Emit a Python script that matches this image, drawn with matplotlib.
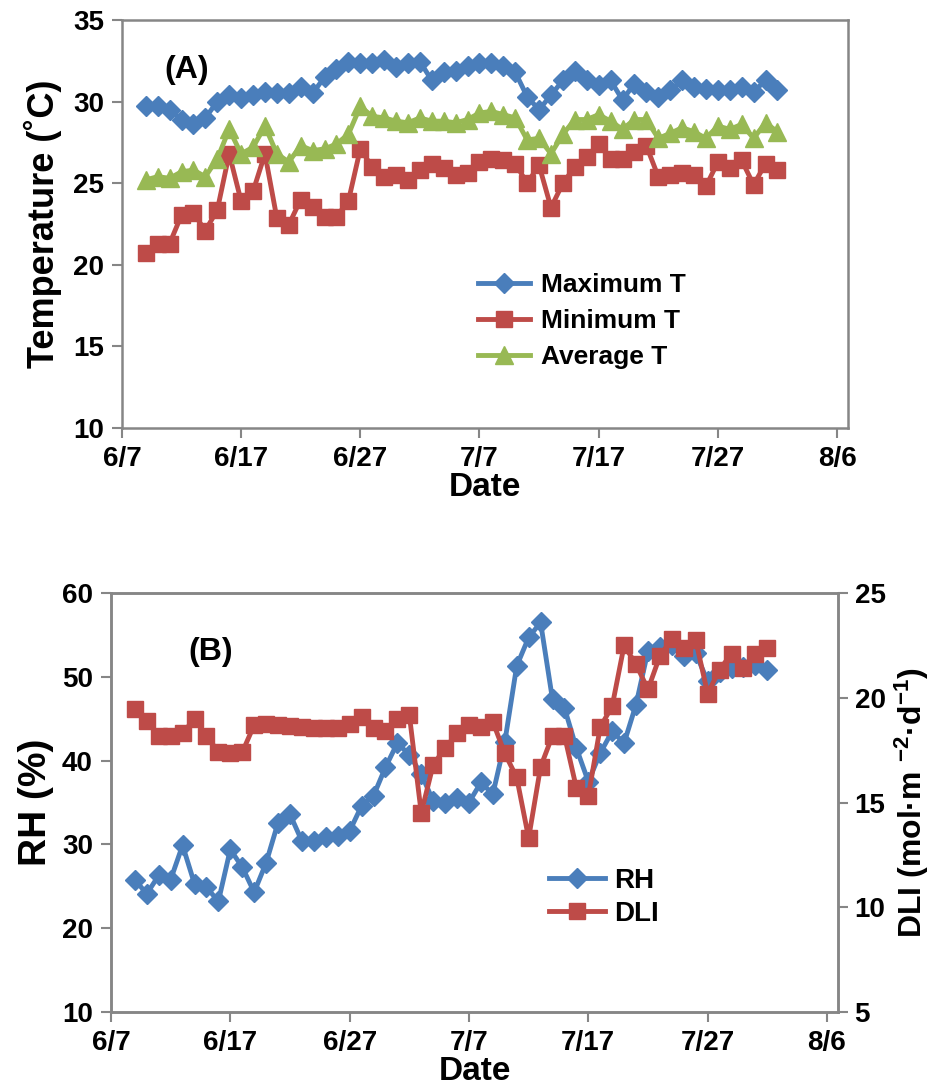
import matplotlib
matplotlib.use('Agg')
import matplotlib.pyplot as plt
import pandas as pd

plt.rcParams['mathtext.fontset'] = 'custom'
plt.rcParams['mathtext.rm'] = 'Liberation Sans:bold'
plt.rcParams['mathtext.bf'] = 'Liberation Sans:bold'
plt.rcParams['mathtext.default'] = 'bf'

# daily readings, 6/9 - 8/1
dates = pd.date_range('2013-06-09', '2013-08-01', freq='D')

max_t = [29.7, 29.7, 29.5, 28.9, 28.6, 29.0, 30.0, 30.4, 30.2, 30.4,
         30.6, 30.5, 30.5, 30.9, 30.5, 31.5, 32.0, 32.4, 32.35, 32.35,
         32.55, 32.1, 32.35, 32.45, 31.3, 31.8, 31.9, 32.2, 32.35, 32.35,
         32.2, 31.8, 30.3, 29.5, 30.4, 31.3, 31.9, 31.3, 31.0, 31.3,
         30.1, 31.1, 30.6, 30.3, 30.7, 31.3, 30.9, 30.8, 30.7, 30.7,
         30.9, 30.6, 31.3, 30.7]
min_t = [20.7, 21.3, 21.3, 23.05, 23.15, 22.1, 23.35, 26.8, 23.9, 24.5,
         26.8, 22.85, 22.45, 24.0, 23.55, 22.95, 22.95, 23.9, 27.1, 26.0,
         25.4, 25.5, 25.2, 25.8, 26.2, 25.9, 25.5, 25.6, 26.3, 26.5,
         26.4, 26.2, 25.0, 26.1, 23.5, 25.0, 26.0, 26.6, 27.4, 26.5,
         26.5, 26.9, 27.3, 25.4, 25.5, 25.6, 25.5, 24.8, 26.3, 25.9,
         26.4, 24.9, 26.2, 25.8]
avg_t = [25.2, 25.4, 25.3, 25.7, 25.8, 25.4, 26.5, 28.3, 26.8, 27.2,
         28.5, 26.8, 26.3, 27.3, 27.0, 27.1, 27.4, 28.0, 29.7, 29.1,
         29.0, 28.8, 28.7, 29.0, 28.8, 28.8, 28.7, 28.9, 29.3, 29.4,
         29.2, 29.0, 27.65, 27.75, 26.8, 28.0, 28.9, 28.9, 29.2, 28.8,
         28.3, 28.9, 28.9, 27.75, 28.05, 28.4, 28.15, 27.75, 28.5, 28.3,
         28.6, 27.75, 28.7, 28.15]

rh = [25.8, 24.1, 26.3, 25.8, 29.9, 25.3, 24.9, 23.2, 29.4, 27.3,
      24.3, 27.8, 32.6, 33.6, 30.4, 30.4, 30.9, 31.0, 31.6, 34.6,
      35.8, 39.2, 42.1, 40.7, 38.4, 35.2, 35.0, 35.6, 35.0, 37.4,
      36.0, 42.2, 51.3, 54.7, 56.5, 47.3, 46.3, 41.5, 37.5, 40.9,
      43.5, 42.1, 46.7, 53.1, 53.6, 53.8, 52.5, 52.8, 49.5, 50.6,
      51.0, 51.2, 51.4, 50.8]
dli = [19.45, 18.9, 18.2, 18.2, 18.3, 19.0, 18.2, 17.4, 17.35, 17.4,
       18.7, 18.75, 18.7, 18.65, 18.6, 18.55, 18.55, 18.55, 18.75, 19.1,
       18.55, 18.4, 19.0, 19.2, 14.5, 16.8, 17.6, 18.3, 18.7, 18.6,
       18.85, 17.35, 16.2, 13.3, 16.7, 18.2, 18.2, 15.7, 15.3, 18.6,
       19.6, 22.5, 21.6, 20.4, 22.0, 22.8, 22.4, 22.75, 20.2, 21.35,
       22.1, 21.4, 22.1, 22.4]

tick_dates = pd.to_datetime(['2013-06-07', '2013-06-17', '2013-06-27', '2013-07-07',
                             '2013-07-17', '2013-07-27', '2013-08-06'])
tick_labels = ['6/7', '6/17', '6/27', '7/7', '7/17', '7/27', '8/6']

BLUE = '#4A7EBB'
RED = '#BE4B48'
GREEN = '#98B954'
GREY = '#868686'
BOLD = ['Liberation Sans', 'DejaVu Sans']

x_end = pd.Timestamp('2013-08-06') + pd.Timedelta(hours=22)


def style_axes(ax):
    for s in ['left', 'bottom', 'top', 'right']:
        ax.spines[s].set_color(GREY)
        ax.spines[s].set_linewidth(1.8)
    ax.tick_params(direction='out', length=7, width=1.5, color=GREY, pad=6)
    ax.set_xlim(pd.Timestamp('2013-06-07'), x_end)
    ax.set_xticks(tick_dates)
    ax.set_xticklabels(tick_labels, fontsize=20, fontweight='bold', family=BOLD)
    ax.set_xlabel('Date', fontsize=24, fontweight='bold', family=BOLD, labelpad=0)


fig = plt.figure(figsize=(9.38, 10.91), dpi=100)

# (A) temperature
ax1 = fig.add_axes([0.130, 0.6077, 0.774, 0.374])
ax1.plot(dates, max_t, color=BLUE, lw=3.5, marker='D', ms=10, label='Maximum T')
ax1.plot(dates, min_t, color=RED, lw=3.5, marker='s', ms=12, label='Minimum T')
ax1.plot(dates, avg_t, color=GREEN, lw=3.5, marker='^', ms=13, label='Average T')
ax1.set_ylim(10, 35)
ax1.set_yticks(range(10, 36, 5))
ax1.set_yticklabels([str(v) for v in range(10, 36, 5)], fontsize=20,
                    fontweight='bold', family=BOLD)
style_axes(ax1)
ax1.set_ylabel('Temperature (˚C)', fontsize=26, fontweight='bold', family=BOLD, labelpad=8)
ax1.text(0.058, 0.877, '(A)', transform=ax1.transAxes, fontsize=23, va='center',
         fontweight='bold', family=BOLD)
ax1.legend(loc='center left', bbox_to_anchor=(0.49, 0.262), frameon=False,
           prop={'family': BOLD, 'weight': 'bold', 'size': 19},
           handlelength=2.0, handletextpad=0.4, labelspacing=0.45,
           borderpad=0, borderaxespad=0)

# (B) RH and DLI
ax2 = fig.add_axes([0.1183, 0.0724, 0.775, 0.384])
ax2.plot(dates, rh, color=BLUE, lw=3.5, marker='D', ms=10, label='RH')
ax2.set_ylim(10, 60)
ax2.set_yticks(range(10, 61, 10))
ax2.set_yticklabels([str(v) for v in range(10, 61, 10)], fontsize=20,
                    fontweight='bold', family=BOLD)
style_axes(ax2)
ax2.set_ylabel('RH (%)', fontsize=28, fontweight='bold', family=BOLD, labelpad=6)
ax2.text(0.106, 0.859, '(B)', transform=ax2.transAxes, fontsize=23, va='center',
         fontweight='bold', family=BOLD)

ax3 = ax2.twinx()
ax3.plot(dates, dli, color=RED, lw=3.5, marker='s', ms=12, label='DLI')
ax3.set_ylim(5, 25)
ax3.set_yticks(range(5, 26, 5))
ax3.set_yticklabels([str(v) for v in range(5, 26, 5)], fontsize=20,
                    fontweight='bold', family=BOLD)
for s in ['left', 'bottom', 'top', 'right']:
    ax3.spines[s].set_color(GREY)
    ax3.spines[s].set_linewidth(1.8)
ax3.tick_params(direction='out', length=7, width=1.5, color=GREY, pad=5)
ax3.set_ylabel('DLI (mol·m $^{-2}$·d$^{-1}$)', fontsize=23, fontweight='bold',
               family=BOLD, labelpad=5)

h1, l1 = ax2.get_legend_handles_labels()
h2, l2 = ax3.get_legend_handles_labels()
ax3.legend(h1 + h2, l1 + l2, loc='center left', bbox_to_anchor=(0.603, 0.273),
           frameon=False, prop={'family': BOLD, 'weight': 'bold', 'size': 20},
           handlelength=2.0, handletextpad=0.35, labelspacing=0.25,
           borderpad=0, borderaxespad=0)

fig.savefig('out.png', dpi=100)
